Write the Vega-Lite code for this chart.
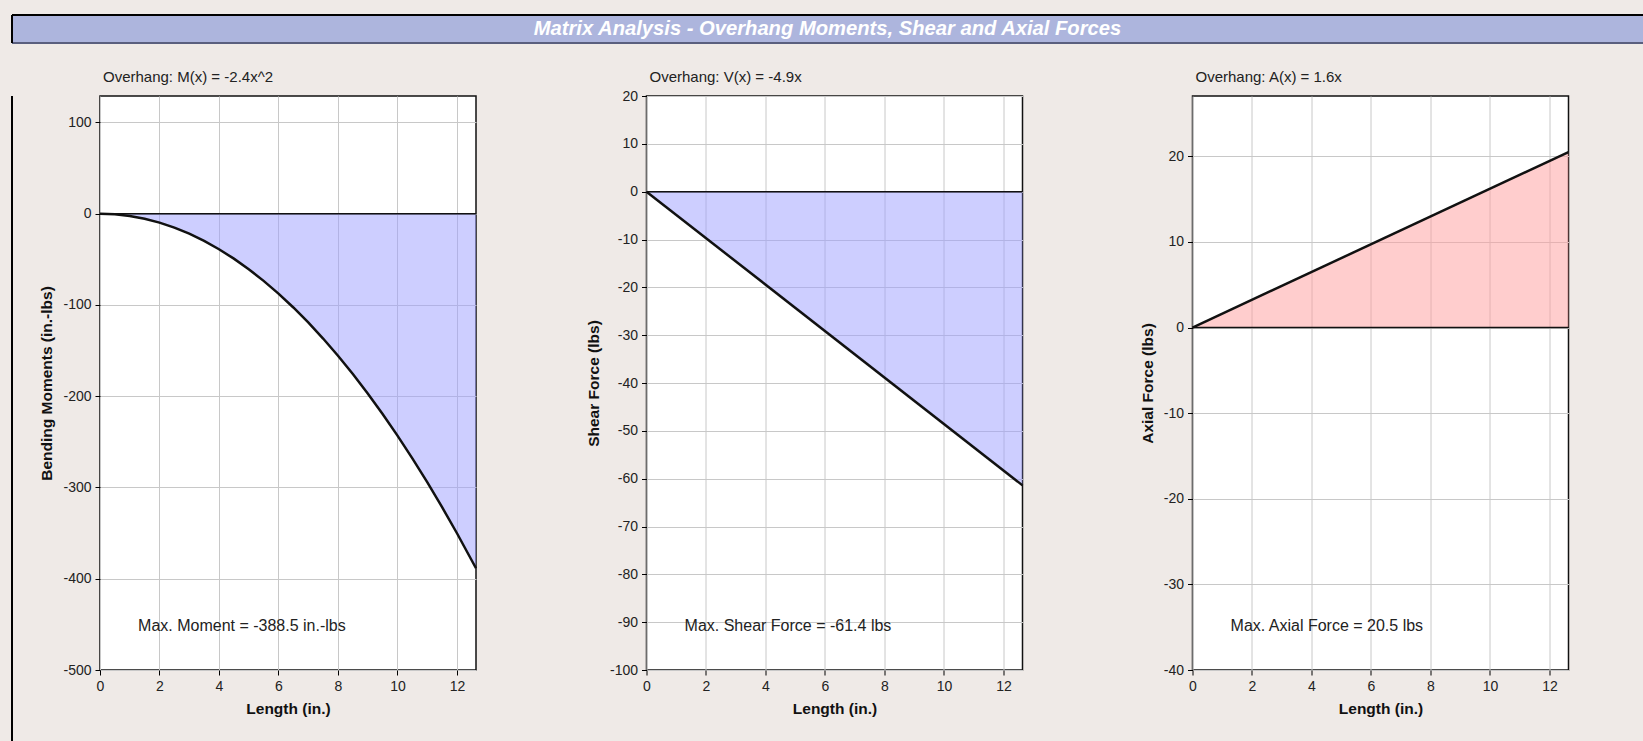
{
  "$schema": "https://vega.github.io/schema/vega-lite/v6.json",
  "background": "#EFEAE7",
  "padding": {"left": 11, "top": 14, "right": 0, "bottom": 0},
  "config": {
    "font": "Liberation Sans",
    "view": {"stroke": "#111111", "strokeWidth": 1.5, "fill": "white"},
    "axis": {
      "labelFont": "Liberation Sans", "labelFontSize": 14, "labelColor": "#222222",
      "labelExpr": "replace(datum.label, '\u2212', '-')",
      "titleFont": "Liberation Sans", "titleFontSize": 15.5, "titleFontWeight": "bold", "titleColor": "#111111",
      "tickColor": "#000000", "tickSize": 5, "tickWidth": 1,
      "gridColor": "#C8C8C8", "gridWidth": 1, "domain": false, "labelPadding": 4
    },
    "axisY": {"titlePadding": 8},
    "axisX": {"titlePadding": 8.5, "labelFlush": false},
    "title": {"font": "Liberation Sans", "fontSize": 15, "fontWeight": "normal", "color": "#222222", "anchor": "start", "frame": "group", "offset": 11.5, "dx": 3, "baseline": "alphabetic"}
  },
  "columns": 1,
  "spacing": 24,
  "concat": [
    {
      "width": 1631,
      "height": 28,
      "view": {"fill": "#ADB5DD", "stroke": null},
      "data": {"values": [{"title": "Matrix Analysis - Overhang Moments, Shear and Axial Forces"}]},
      "layer": [
        {"mark": {"type": "rule", "color": "#000000", "strokeWidth": 2}, "encoding": {"y": {"datum": 1, "type": "quantitative", "scale": {"domain": [0, 1]}, "axis": null}}},
        {"mark": {"type": "rule", "color": "#5A5F7E", "strokeWidth": 2}, "encoding": {"y": {"datum": 0, "type": "quantitative", "scale": {"domain": [0, 1]}, "axis": null}}},
        {"mark": {"type": "rule", "color": "#000000", "strokeWidth": 2}, "encoding": {"x": {"datum": 0, "type": "quantitative", "scale": {"domain": [0, 1]}, "axis": null}}},
        {"mark": {"type": "text", "color": "white", "font": "Liberation Sans", "fontSize": 20.2, "fontWeight": "bold", "fontStyle": "italic", "baseline": "middle", "align": "center"}, "encoding": {"text": {"field": "title"}}}
      ]
    },
    {
      "spacing": 26,
      "hconcat": [
        {
          "width": 1,
          "height": 645,
          "view": {"fill": null, "stroke": null},
          "data": {"values": [{"edge": 0}]},
          "mark": {"type": "rule", "color": "#000000", "strokeWidth": 2},
          "encoding": {"x": {"field": "edge", "type": "quantitative", "scale": {"domain": [0, 1]}, "axis": null}}
        },
        {
          "spacing": 103.5,
          "hconcat": [
            {
              "width": 376,
              "height": 574,
              "title": "Overhang:  M(x) = -2.4x^2",
              "layer": [
                {
                  "data": {"values": [
                    {"x": 0, "y": 0}, {"x": 0.5, "y": -0.61}, {"x": 1, "y": -2.43}, {"x": 1.5, "y": -5.47},
                    {"x": 2, "y": -9.73}, {"x": 2.5, "y": -15.2}, {"x": 3, "y": -21.88}, {"x": 3.5, "y": -29.79},
                    {"x": 4, "y": -38.91}, {"x": 4.5, "y": -49.24}, {"x": 5, "y": -60.79}, {"x": 5.5, "y": -73.56},
                    {"x": 6, "y": -87.54}, {"x": 6.5, "y": -102.74}, {"x": 7, "y": -119.15}, {"x": 7.5, "y": -136.78},
                    {"x": 8, "y": -155.62}, {"x": 8.5, "y": -175.68}, {"x": 9, "y": -196.96}, {"x": 9.5, "y": -219.45},
                    {"x": 10, "y": -243.16}, {"x": 10.5, "y": -268.08}, {"x": 11, "y": -294.22}, {"x": 11.5, "y": -321.58},
                    {"x": 12, "y": -350.15}, {"x": 12.64, "y": -388.5}
                  ]},
                  "encoding": {
                    "x": {"field": "x", "type": "quantitative", "scale": {"domain": [0, 12.64], "nice": false, "zero": false},
                          "axis": {"values": [0, 2, 4, 6, 8, 10, 12], "title": "Length (in.)"}},
                    "y": {"field": "y", "type": "quantitative", "scale": {"domain": [-500, 129], "nice": false},
                          "axis": {"values": [-500, -400, -300, -200, -100, 0, 100], "title": "Bending Moments (in.-lbs)"}}
                  },
                  "layer": [
                    {"mark": {"type": "area", "fill": "#9C9EFF", "fillOpacity": 0.5}},
                    {"mark": {"type": "line", "color": "#111111", "strokeWidth": 2.5}}
                  ]
                },
                {
                  "data": {"values": [{"y": 0}]},
                  "mark": {"type": "rule", "color": "#111111", "strokeWidth": 1.5},
                  "encoding": {"y": {"field": "y", "type": "quantitative", "scale": {"domain": [-500, 129], "nice": false}, "axis": {"values": [-500, -400, -300, -200, -100, 0, 100], "title": "Bending Moments (in.-lbs)"}}}
                },
                {
                  "data": {"values": [{"x": 1.28, "y": -452, "label": "Max. Moment = -388.5 in.-lbs"}]},
                  "mark": {"type": "text", "align": "left", "baseline": "middle", "fontSize": 16, "color": "#222222", "font": "Liberation Sans"},
                  "encoding": {
                    "x": {"field": "x", "type": "quantitative", "scale": {"domain": [0, 12.64], "nice": false, "zero": false}, "axis": {"values": [0, 2, 4, 6, 8, 10, 12], "title": "Length (in.)"}},
                    "y": {"field": "y", "type": "quantitative", "scale": {"domain": [-500, 129], "nice": false}, "axis": {"values": [-500, -400, -300, -200, -100, 0, 100], "title": "Bending Moments (in.-lbs)"}},
                    "text": {"field": "label"}
                  }
                }
              ]
            },
            {
              "hconcat": [
                {
                  "width": 376,
                  "height": 574,
                  "title": {"text": "Overhang:  V(x) = -4.9x", "offset": 4.5},
                  "layer": [
                    {
                      "data": {"values": [{"x": 0, "y": 0}, {"x": 12.64, "y": -61.4}]},
                      "encoding": {
                        "x": {"field": "x", "type": "quantitative", "scale": {"domain": [0, 12.64], "nice": false, "zero": false},
                              "axis": {"values": [0, 2, 4, 6, 8, 10, 12], "title": "Length (in.)"}},
                        "y": {"field": "y", "type": "quantitative", "scale": {"domain": [-100, 20], "nice": false},
                              "axis": {"values": [-100, -90, -80, -70, -60, -50, -40, -30, -20, -10, 0, 10, 20], "title": "Shear Force (lbs)"}}
                      },
                      "layer": [
                        {"mark": {"type": "area", "fill": "#9C9EFF", "fillOpacity": 0.5}},
                        {"mark": {"type": "line", "color": "#111111", "strokeWidth": 2.5}}
                      ]
                    },
                    {
                      "data": {"values": [{"y": 0}]},
                      "mark": {"type": "rule", "color": "#111111", "strokeWidth": 1.5},
                      "encoding": {"y": {"field": "y", "type": "quantitative", "scale": {"domain": [-100, 20], "nice": false}, "axis": {"values": [-100, -90, -80, -70, -60, -50, -40, -30, -20, -10, 0, 10, 20], "title": "Shear Force (lbs)"}}}
                    },
                    {
                      "data": {"values": [{"x": 1.28, "y": -90.9, "label": "Max. Shear Force = -61.4 lbs"}]},
                      "mark": {"type": "text", "align": "left", "baseline": "middle", "fontSize": 16, "color": "#222222", "font": "Liberation Sans"},
                      "encoding": {
                        "x": {"field": "x", "type": "quantitative", "scale": {"domain": [0, 12.64], "nice": false, "zero": false}, "axis": {"values": [0, 2, 4, 6, 8, 10, 12], "title": "Length (in.)"}},
                        "y": {"field": "y", "type": "quantitative", "scale": {"domain": [-100, 20], "nice": false}, "axis": {"values": [-100, -90, -80, -70, -60, -50, -40, -30, -20, -10, 0, 10, 20], "title": "Shear Force (lbs)"}},
                        "text": {"field": "label"}
                      }
                    }
                  ]
                },
                {
                  "width": 376,
                  "height": 574,
                  "title": "Overhang:  A(x) = 1.6x",
                  "layer": [
                    {
                      "data": {"values": [{"x": 0, "y": 0}, {"x": 12.64, "y": 20.5}]},
                      "encoding": {
                        "x": {"field": "x", "type": "quantitative", "scale": {"domain": [0, 12.64], "nice": false, "zero": false},
                              "axis": {"values": [0, 2, 4, 6, 8, 10, 12], "title": "Length (in.)"}},
                        "y": {"field": "y", "type": "quantitative", "scale": {"domain": [-40, 27.05], "nice": false},
                              "axis": {"values": [-40, -30, -20, -10, 0, 10, 20], "title": "Axial Force (lbs)"}}
                      },
                      "layer": [
                        {"mark": {"type": "area", "fill": "#FF9C9C", "fillOpacity": 0.5}},
                        {"mark": {"type": "line", "color": "#111111", "strokeWidth": 2.5}}
                      ]
                    },
                    {
                      "data": {"values": [{"y": 0}]},
                      "mark": {"type": "rule", "color": "#111111", "strokeWidth": 1.5},
                      "encoding": {"y": {"field": "y", "type": "quantitative", "scale": {"domain": [-40, 27.05], "nice": false}, "axis": {"values": [-40, -30, -20, -10, 0, 10, 20], "title": "Axial Force (lbs)"}}}
                    },
                    {
                      "data": {"values": [{"x": 1.28, "y": -34.9, "label": "Max. Axial Force = 20.5 lbs"}]},
                      "mark": {"type": "text", "align": "left", "baseline": "middle", "fontSize": 16, "color": "#222222", "font": "Liberation Sans"},
                      "encoding": {
                        "x": {"field": "x", "type": "quantitative", "scale": {"domain": [0, 12.64], "nice": false, "zero": false}, "axis": {"values": [0, 2, 4, 6, 8, 10, 12], "title": "Length (in.)"}},
                        "y": {"field": "y", "type": "quantitative", "scale": {"domain": [-40, 27.05], "nice": false}, "axis": {"values": [-40, -30, -20, -10, 0, 10, 20], "title": "Axial Force (lbs)"}},
                        "text": {"field": "label"}
                      }
                    }
                  ]
                }
              ],
              "bounds": "flush",
              "spacing": 170
            }
          ]
        }
      ]
    }
  ]
}
